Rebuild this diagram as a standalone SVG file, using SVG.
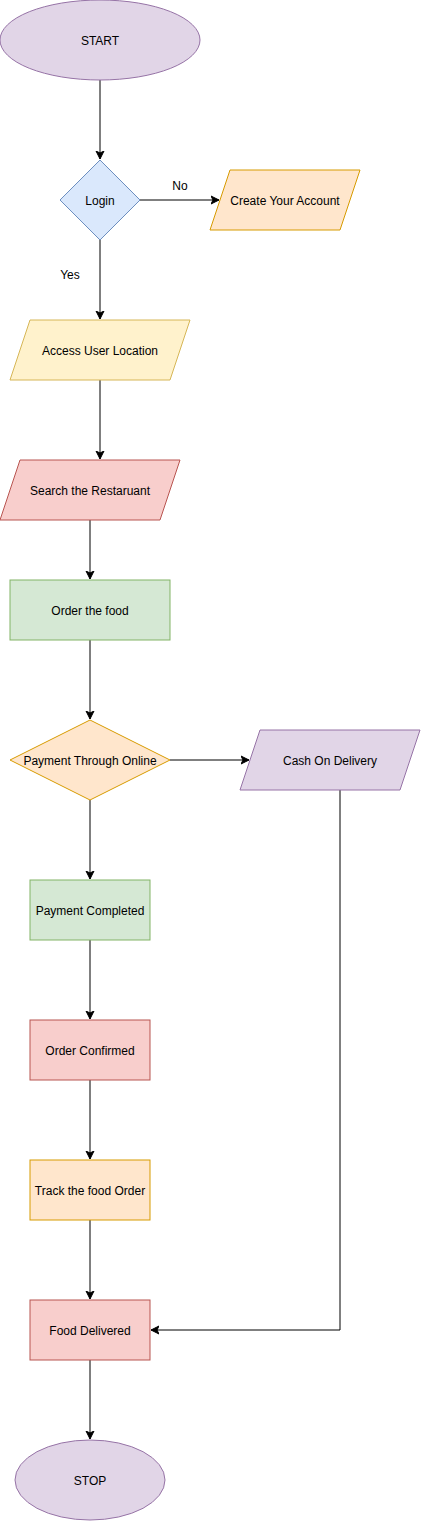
<svg xmlns="http://www.w3.org/2000/svg" width="421" height="1521" viewBox="0 0 421 1521">
<style>
text{font-family:"Liberation Sans",Arial,sans-serif;font-size:12px;fill:#000;text-anchor:middle;dominant-baseline:central}
.purple{fill:#e1d5e7;stroke:#9673a6}
.blue{fill:#dae8fc;stroke:#6c8ebf}
.orange{fill:#ffe6cc;stroke:#d79b00}
.yellow{fill:#fff2cc;stroke:#d6b656}
.red{fill:#f8cecc;stroke:#b85450}
.green{fill:#d5e8d4;stroke:#82b366}
.edge{fill:none;stroke:#000;stroke-width:1;marker-end:url(#arr)}
</style>
<defs>
<marker id="arr" markerWidth="10" markerHeight="10" refX="8" refY="4" orient="auto" markerUnits="userSpaceOnUse" viewBox="0 0 10 8">
<path d="M0,0 L8,4 L0,8 L2,4 Z" fill="#000" stroke="#000" stroke-width="1"/>
</marker>
</defs>
<rect width="421" height="1521" fill="#fff"/>
<g id="connectors">
<path class="edge" d="M100,80 L100,159"/>
<path class="edge" d="M140,200 L219,200"/>
<path class="edge" d="M100,240 L100,319"/>
<path class="edge" d="M100,380 L100,459"/>
<path class="edge" d="M90,520 L90,579"/>
<path class="edge" d="M90,640 L90,719"/>
<path class="edge" d="M170,760 L249,760"/>
<path class="edge" d="M90,800 L90,879"/>
<path class="edge" d="M90,940 L90,1019"/>
<path class="edge" d="M90,1080 L90,1159"/>
<path class="edge" d="M90,1220 L90,1299"/>
<path class="edge" d="M340,790 L340,1330 L151,1330"/>
<path class="edge" d="M90,1360 L90,1439"/>
<text x="180" y="186">No</text>
<text x="70" y="275">Yes</text>
</g>
<g id="start"><ellipse class="purple" cx="100" cy="40" rx="100" ry="40"/><text x="100" y="41">START</text></g>
<g id="login"><path class="blue" d="M100,160 L140,200 L100,240 L60,200 Z"/><text x="100" y="201">Login</text></g>
<g id="create-account"><path class="orange" d="M230,170 L360,170 L340,230 L210,230 Z"/><text x="285" y="201">Create Your Account</text></g>
<g id="access-location"><path class="yellow" d="M30,320 L190,320 L170,380 L10,380 Z"/><text x="100" y="351">Access User Location</text></g>
<g id="search-restaurant"><path class="red" d="M20,460 L180,460 L160,520 L0,520 Z"/><text x="90" y="491">Search the Restaruant</text></g>
<g id="order-food"><rect class="green" x="10" y="580" width="160" height="60"/><text x="90" y="611">Order the food</text></g>
<g id="payment-online"><path class="orange" d="M90,720 L170,760 L90,800 L10,760 Z"/><text x="90" y="761">Payment Through Online</text></g>
<g id="cash-delivery"><path class="purple" d="M260,730 L420,730 L400,790 L240,790 Z"/><text x="330" y="761">Cash On Delivery</text></g>
<g id="payment-completed"><rect class="green" x="30" y="880" width="120" height="60"/><text x="90" y="911">Payment Completed</text></g>
<g id="order-confirmed"><rect class="red" x="30" y="1020" width="120" height="60"/><text x="90" y="1051">Order Confirmed</text></g>
<g id="track-order"><rect class="orange" x="30" y="1160" width="120" height="60"/><text x="90" y="1191">Track the food Order</text></g>
<g id="food-delivered"><rect class="red" x="30" y="1300" width="120" height="60"/><text x="90" y="1331">Food Delivered</text></g>
<g id="stop"><ellipse class="purple" cx="90" cy="1480" rx="75" ry="40"/><text x="90" y="1481">STOP</text></g>
</svg>
